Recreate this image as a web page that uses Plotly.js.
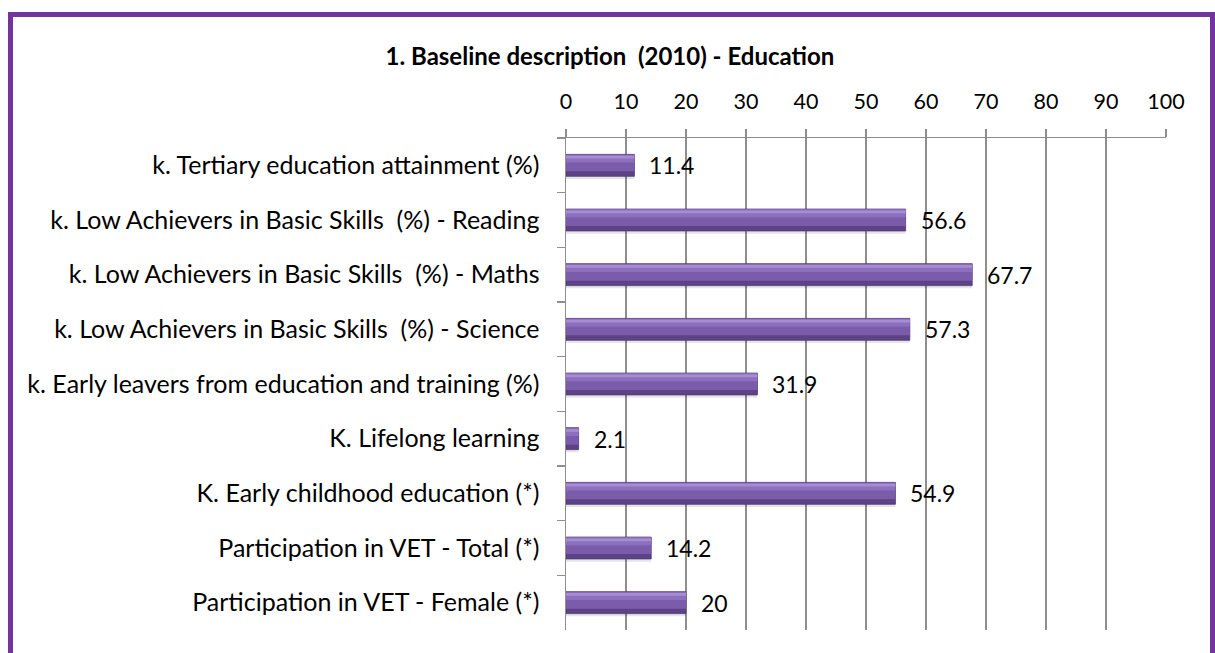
<!DOCTYPE html>
<html>
<head>
<meta charset="utf-8">
<script src="https://cdn.plot.ly/plotly-3.0.1.min.js"></script>
<style>
  html, body { margin: 0; padding: 0; background: #ffffff; }
  #chart { width: 1215px; height: 653px; }
</style>
</head>
<body>
<div id="chart"></div>
<script>
const categories = [
  "k. Tertiary education attainment (%)",
  "k. Low Achievers in Basic Skills  (%) - Reading",
  "k. Low Achievers in Basic Skills  (%) - Maths",
  "k. Low Achievers in Basic Skills  (%) - Science",
  "k. Early leavers from education and training (%)",
  "K. Lifelong learning",
  "K. Early childhood education (*)",
  "Participation in VET - Total (*)",
  "Participation in VET - Female (*)"
];
const values = [11.4, 56.6, 67.7, 57.3, 31.9, 2.1, 54.9, 14.2, 20];
const valueLabels = ["11.4", "56.6", "67.7", "57.3", "31.9", "2.1", "54.9", "14.2", "20"];
const tickVals = [0, 10, 20, 30, 40, 50, 60, 70, 80, 90, 100];

const FONT = "Lato, 'Open Sans', sans-serif";

function barLayer(color, width, offset, extra) {
  return Object.assign({
    type: "bar", orientation: "h",
    x: values, y: categories,
    width: width, offset: offset,
    marker: { color: color, line: { width: 0 } },
    hoverinfo: "skip", showlegend: false
  }, extra || {});
}

const traces = [
  barLayer("rgba(0,0,0,0.10)", 0.44, -0.19),
  barLayer("#5d4285", 0.40, -0.20, { marker: { color: "#5d4285", line: { color: "#4f3872", width: 0.8 } } }),
  barLayer("#7a5cab", 0.31, -0.20),
  barLayer("#8d70bd", 0.14, -0.19),
  barLayer("#a68dd3", 0.05, -0.175)
];

const annotations = values.map((v, i) => ({
  x: v, y: categories[i], xref: "x", yref: "y",
  text: valueLabels[i], showarrow: false,
  xanchor: "left", yanchor: "middle", xshift: 13,
  font: { family: FONT, size: 23, color: "#000000" }
}));

const layout = {
  width: 1215, height: 653,
  margin: { l: 566, r: 49, t: 138, b: 23, pad: 0 },
  paper_bgcolor: "#ffffff", plot_bgcolor: "#ffffff",
  barmode: "overlay",
  font: { family: FONT, size: 21, color: "#000000" },
  title: {
    text: "<b>1. Baseline description  (2010) - Education</b>",
    font: { family: FONT, size: 24, color: "#000000" },
    x: 0.502, xref: "container", xanchor: "center",
    y: 1 - 57 / 653, yref: "container", yanchor: "middle"
  },
  xaxis: {
    side: "top", range: [0, 100], tickvals: tickVals,
    ticktext: tickVals.map(String),
    showgrid: true, gridcolor: "#8e8e8e", gridwidth: 1.5,
    showline: true, linecolor: "#8e8e8e", linewidth: 1.5,
    ticks: "outside", ticklen: 8, tickcolor: "#8e8e8e", tickwidth: 1.5,
    ticklabelstandoff: 11,
    tickfont: { family: FONT, size: 21.5, color: "#000000" },
    zeroline: false, fixedrange: true
  },
  yaxis: {
    type: "category", categoryorder: "array", categoryarray: categories,
    autorange: "reversed",
    showline: true, linecolor: "#8e8e8e", linewidth: 1.5,
    ticks: "outside", tickson: "boundaries", ticklen: 8, tickcolor: "#8e8e8e", tickwidth: 1.5,
    ticklabelstandoff: 20,
    tickfont: { family: FONT, size: 25, color: "#000000" },
    showgrid: false, zeroline: false, fixedrange: true
  },
  annotations: annotations,
  shapes: [{
    type: "rect", xref: "paper", yref: "paper",
    x0: (10.5 - 566) / 600, x1: (1212.5 - 566) / 600,
    y0: (630 - 665) / 492, y1: (630 - 14.5) / 492,
    line: { color: "#7334a0", width: 5 }, fillcolor: "rgba(0,0,0,0)", layer: "below"
  }]
};

Plotly.newPlot("chart", traces, layout, { displayModeBar: false, staticPlot: true });
</script>
</body>
</html>
